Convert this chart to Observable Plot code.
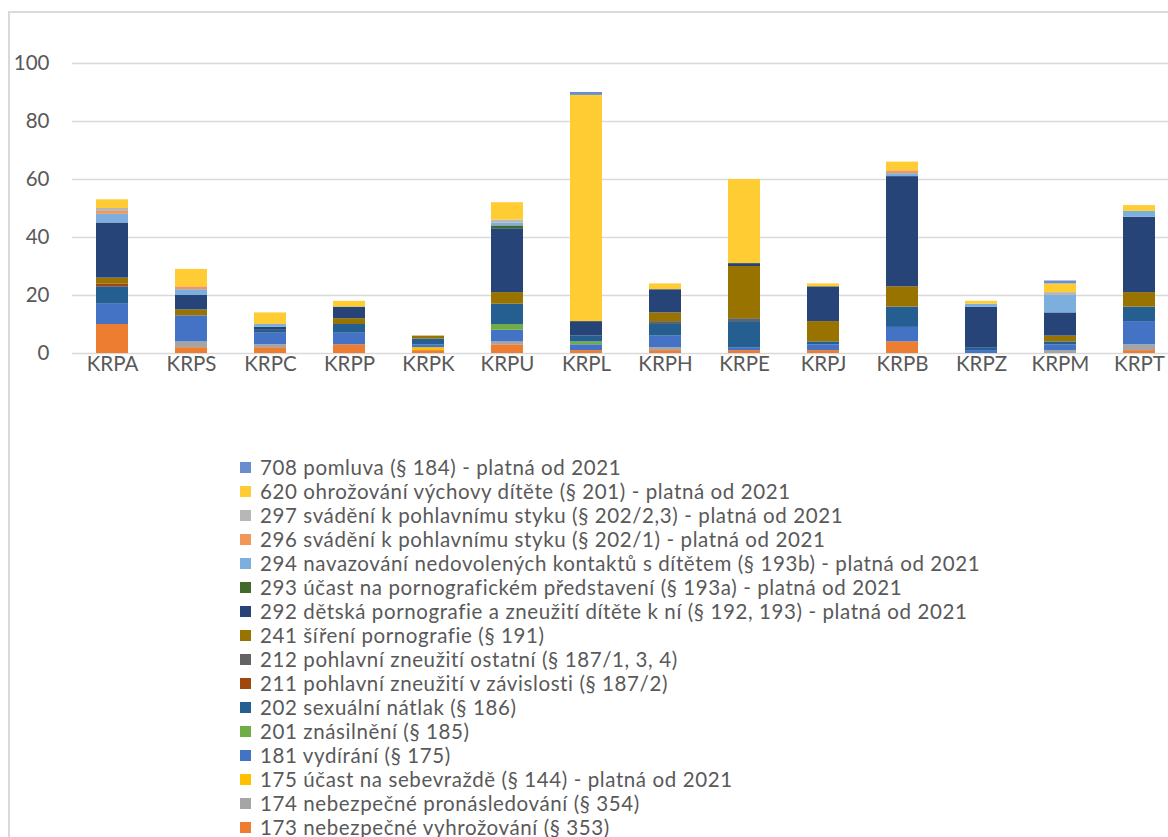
<!DOCTYPE html>
<html>
<head>
<meta charset="utf-8">
<script src="https://cdn.jsdelivr.net/npm/d3@7"></script>
<script src="https://cdn.jsdelivr.net/npm/@observablehq/plot@0.6"></script>
<style>
  html, body { margin: 0; padding: 0; background: #fff; overflow: hidden; width: 1168px; height: 837px; }
  #frame { position: absolute; left: 8px; top: 11px; width: 1400px; height: 1000px; z-index: 10;
           border-left: 2px solid #d9d9d9; border-top: 2px solid #d9d9d9; pointer-events: none; }
  #chart { position: absolute; left: 0; top: 0; }
  #legend { position: absolute; left: 240px; top: 455px; font-family: Lato, "Open Sans", sans-serif;
            font-size: 20.5px; letter-spacing: 0.6px; color: #595959; }
  .row { height: 24px; line-height: 24px; white-space: nowrap; display: flex; align-items: center; }
  .sw { width: 11px; height: 11px; margin-right: 9px; flex: none; }
</style>
</head>
<body>
<div id="chart"></div>
<div id="frame"></div>
<div id="legend"></div>
<script>
const regions = ["KRPA","KRPS","KRPC","KRPP","KRPK","KRPU","KRPL","KRPH","KRPE","KRPJ","KRPB","KRPZ","KRPM","KRPT"];

const seriesNames = [
  "173 nebezpečné vyhrožování (§ 353)",
  "174 nebezpečné pronásledování (§ 354)",
  "175 účast na sebevraždě (§ 144) - platná od 2021",
  "181 vydírání (§ 175)",
  "201 znásilnění (§ 185)",
  "202 sexuální nátlak (§ 186)",
  "211 pohlavní zneužití v závislosti (§ 187/2)",
  "212 pohlavní zneužití ostatní (§ 187/1, 3, 4)",
  "241 šíření pornografie (§ 191)",
  "292 dětská pornografie a zneužití dítěte k ní (§ 192, 193) - platná od 2021",
  "293 účast na pornografickém představení (§ 193a) - platná od 2021",
  "294 navazování nedovolených kontaktů s dítětem (§ 193b) - platná od 2021",
  "296 svádění k pohlavnímu styku (§ 202/1) - platná od 2021",
  "297 svádění k pohlavnímu styku (§ 202/2,3) - platná od 2021",
  "620 ohrožování výchovy dítěte (§ 201) - platná od 2021",
  "708 pomluva (§ 184) - platná od 2021"
];

const seriesColors = ["#ED7D31","#A5A5A5","#FFC000","#4472C4","#70AD47","#255E91","#9E480E","#636363",
                      "#997300","#264478","#43682B","#7CAFDD","#F1975A","#B7B7B7","#FFCD33","#698ED0"];

// values per series, in region order
const v173 = [10, 2, 2, 3, 1, 3, 1, 1, 1, 1, 4, 0, 0, 1];
const v174 = [0, 2, 1, 0, 0, 1, 0, 1, 0, 0, 0, 0, 1, 2];
const v175 = [0, 0, 0, 0, 1, 0, 0, 0, 0, 0, 0, 0, 0, 0];
const v181 = [7, 9, 4, 4, 1, 4, 2, 4, 1, 2, 5, 1, 2, 8];
const v201 = [0, 0, 0, 0, 0, 2, 1, 0, 0, 0, 0, 0, 0, 0];
const v202 = [6, 0, 1, 3, 2, 7, 2, 4, 9, 1, 7, 1, 1, 5];
const v211 = [1, 0, 0, 0, 0, 0, 0, 0, 0, 0, 0, 0, 0, 0];
const v212 = [0, 0, 0, 0, 0, 0, 0, 1, 1, 0, 0, 0, 0, 0];
const v241 = [2, 2, 0, 2, 1, 4, 0, 3, 18, 7, 7, 0, 2, 5];
const v292 = [19, 5, 1, 4, 0, 22, 5, 8, 1, 12, 38, 14, 8, 26];
const v293 = [0, 0, 0, 0, 0, 1, 0, 0, 0, 0, 0, 0, 0, 0];
const v294 = [3, 2, 1, 0, 0, 1, 0, 0, 0, 0, 1, 1, 6, 2];
const v296 = [1, 1, 0, 0, 0, 0, 0, 0, 0, 0, 1, 0, 0, 0];
const v297 = [1, 0, 0, 0, 0, 1, 0, 0, 0, 0, 0, 0, 1, 0];
const v620 = [3, 6, 4, 2, 0, 6, 78, 2, 29, 1, 3, 1, 3, 2];
const v708 = [0, 0, 0, 0, 0, 0, 1, 0, 0, 0, 0, 0, 1, 0];

const yTicks = [0, 20, 40, 60, 80, 100];

const seriesValues = [v173, v174, v175, v181, v201, v202, v211, v212, v241, v292, v293, v294, v296, v297, v620, v708];

const data = [];
seriesNames.forEach((s, si) => {
  regions.forEach((r, ri) => {
    data.push({region: r, series: s, value: seriesValues[si][ri]});
  });
});

const chart = Plot.plot({
  width: 1168,
  height: 400,
  marginTop: 63,
  marginBottom: 47,
  marginLeft: 72,
  marginRight: 0,
  style: {background: "transparent", fontFamily: "Lato, 'Open Sans', sans-serif", color: "#595959"},
  x: {domain: regions, range: [72, 1178], paddingInner: 0.6, paddingOuter: 0.3, label: null},
  y: {domain: [0, 100], label: null},
  color: {domain: seriesNames, range: seriesColors},
  marks: [
    Plot.ruleY(yTicks, {stroke: "#d9d9d9", strokeWidth: 1.5}),
    Plot.barY(data, Plot.stackY({order: null}, {x: "region", y: "value", z: "series", fill: "series", inset: 0})),
    Plot.axisY({ticks: yTicks, tickSize: 0, tickPadding: 23, fontSize: 20.5, fill: "#595959", label: null}),
    Plot.axisX({tickSize: 0, tickPadding: 3, fontSize: 20.5, fill: "#595959", label: null, style: {letterSpacing: "0.6px"}})
  ]
});
document.getElementById("chart").appendChild(chart);

const legend = document.getElementById("legend");
for (let i = seriesNames.length - 1; i >= 0; i--) {
  const row = document.createElement("div");
  row.className = "row";
  const sw = document.createElement("span");
  sw.className = "sw";
  sw.style.background = seriesColors[i];
  const t = document.createElement("span");
  t.textContent = seriesNames[i];
  row.appendChild(sw);
  row.appendChild(t);
  legend.appendChild(row);
}
</script>
</body>
</html>
